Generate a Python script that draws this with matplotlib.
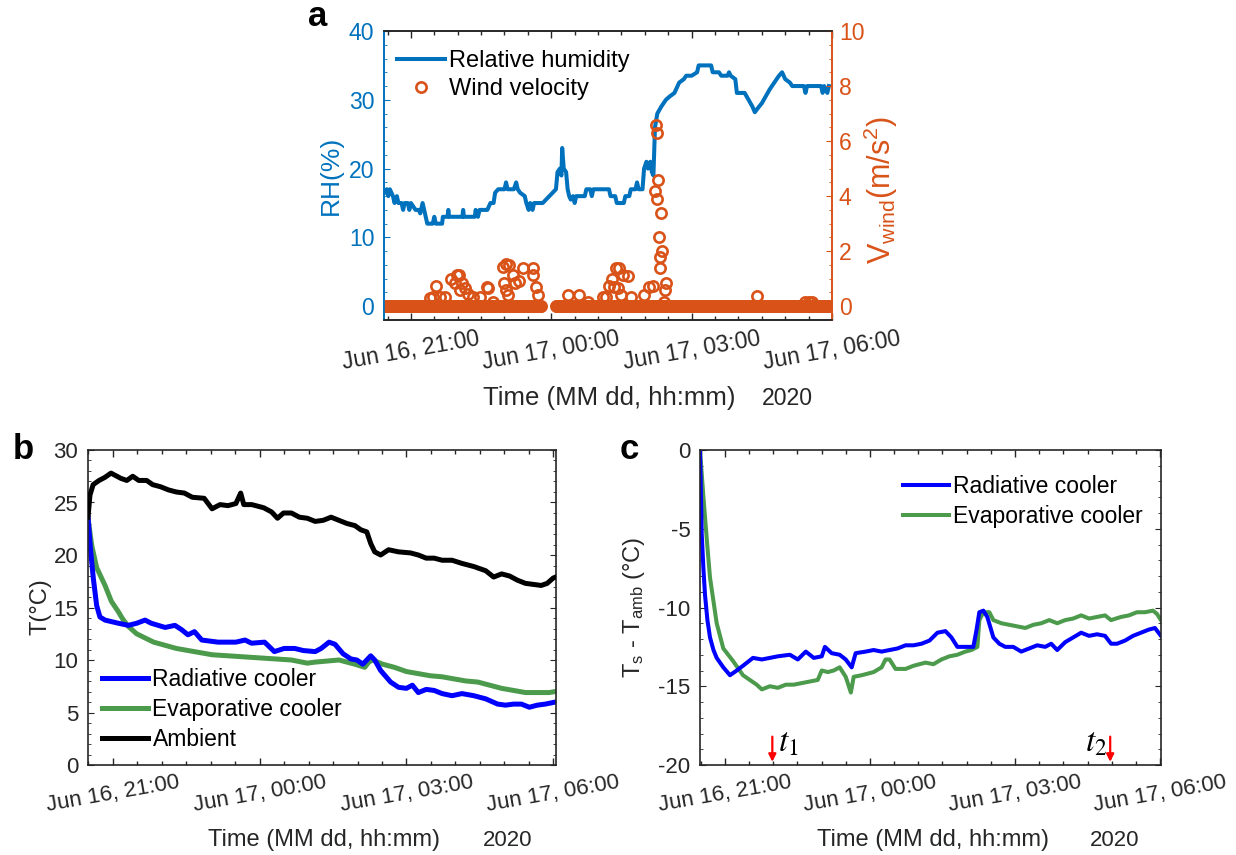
import numpy as np
import pandas as pd
import matplotlib
matplotlib.use("Agg")
import matplotlib.pyplot as plt
import matplotlib.dates as mdates
from matplotlib.ticker import MultipleLocator, FixedLocator

plt.rcParams['font.family'] = ['Liberation Sans', 'DejaVu Sans']
plt.rcParams['mathtext.fontset'] = 'custom'
plt.rcParams['mathtext.rm'] = 'Liberation Sans'
plt.rcParams['mathtext.it'] = 'Liberation Sans:italic'
plt.rcParams['mathtext.bf'] = 'Liberation Sans:bold'
plt.rcParams['axes.unicode_minus'] = False

BASE = pd.Timestamp("2020-06-16 20:00")


def T(minutes):
    return BASE + pd.to_timedelta(np.asarray(minutes, dtype=float), unit="min")


# ---------------- Panel a : relative humidity / wind ----------------
# minutes after Jun 16 20:00
rh_min = [26, 29, 31, 33, 35, 37, 39, 42, 44, 48, 50, 52, 56, 58, 60, 63, 66, 70, 72, 75,
          77, 79, 81, 88, 90, 92, 100, 101, 107, 108, 109, 126, 127, 128, 142, 143, 146, 148,
          158, 162, 166, 168, 172, 180, 182, 184, 192, 195, 197, 200, 206, 208, 211, 213, 216,
          218, 229, 246, 248, 251, 253, 254, 256, 259, 261, 263, 265, 268, 270, 272, 283, 285,
          290, 292, 294, 314, 316, 322, 324, 333, 335, 340, 342, 348, 350, 352, 357, 359, 362,
          364, 367, 369, 371, 373, 376, 381, 387, 392, 398, 404, 410, 413, 420, 427, 429, 445,
          447, 455, 458, 466, 468, 470, 476, 478, 488, 493, 498, 501, 505, 510, 515, 520, 526,
          532, 536, 540, 546, 549, 564, 566, 568, 586, 588, 590, 594, 596]
rh_val = [16.5, 17, 16, 17, 16.5, 16, 15, 16, 15, 15, 14, 15, 15, 14, 15, 14.5, 14, 14, 13.5, 15,
          14, 13, 12, 12, 13, 12, 12, 13, 13, 14, 13, 13, 14, 13, 13, 14, 13, 14,
          14, 15, 15, 16.5, 17, 17, 18, 17, 17, 18, 17, 16.5, 16, 15, 14, 15, 14,
          15, 15, 17, 19.5, 20, 19, 23, 20, 19.5, 17, 16, 15.5, 16, 15, 16, 16, 17,
          17, 16, 17, 17, 16, 16, 15, 15, 16, 16, 17, 17, 18, 17, 17, 20, 21,
          20, 21, 19.5, 19, 26, 28, 29, 30, 30.5, 31, 32.5, 33, 33.5, 33.5, 34, 35, 35,
          34, 34, 33.5, 33.5, 34, 33.5, 33, 31, 31, 30, 29, 28.2, 28.8, 29.5, 30.5, 31.5, 32.5,
          33.5, 34, 33, 32.5, 32, 32, 31, 32, 32, 31, 32, 31, 32]

# wind readings of 0 m/s (1-min sampling, data gap between 227 and 246 min)
wind_zero_spans = [(26, 227), (246, 600)]
wind_min = [84, 88.5, 92, 97, 103.5, 112, 116, 118.5, 122, 122.5, 125, 129, 133, 140, 148,
            157, 159, 165, 178, 179, 181.5, 182.5, 184.5, 185.5, 191, 193, 199, 203.5, 216,
            217, 220.5, 223, 261, 276, 287, 306, 310, 314.5, 318.5, 321, 323, 325, 326.5,
            329, 332, 338, 342, 359, 365.5, 370, 373, 374, 375, 376, 377.5, 378.5, 379,
            379.5, 380.5, 382.5, 384.5, 386, 387, 504, 566, 570, 574]
wind_val = [0.3, 0.34, 0.74, 0.34, 0.34, 1.0, 0.83, 1.13, 1.15, 0.58, 0.83, 0.65, 0.45, 0.34, 0.34,
            0.7, 0.65, 0.15, 1.43, 0.83, 0.58, 1.52, 0.4, 1.5, 1.13, 0.83, 0.9, 1.4, 1.4,
            1.13, 0.7, 0.4, 0.42, 0.42, 0.15, 0.34, 0.35, 0.75, 1.0, 0.7, 1.4, 0.65, 1.4,
            0.4, 1.15, 1.1, 0.35, 0.42, 0.7, 0.73, 4.2, 6.6, 3.9, 6.3, 4.6, 2.5, 1.8,
            1.4, 3.4, 2.0, 0.16, 0.58, 0.83, 0.38, 0.15, 0.15, 0.15]

# ---------------- Panel b : temperatures ----------------
amb_min = [29.4, 31.8, 35.7, 43.0, 50.3, 57.6, 62.4, 69.7, 77.0, 84.3, 91.6, 101.4, 108.7, 118.4,
           128.1, 137.8, 147.6, 157.3, 171.9, 181.6, 191.4, 201.1, 210.8, 216.7, 220.5, 230.3,
           244.9, 254.6, 261.9, 269.2, 278.9, 288.7, 298.4, 308.1, 317.8, 327.6, 337.3, 347.0,
           356.8, 364.1, 371.4, 376.2, 381.1, 388.4, 398.1, 410.3, 424.9, 434.6, 444.3, 454.1,
           463.8, 476.0, 488.1, 502.7, 517.3, 527.0, 536.8, 546.5, 556.2, 566.0, 575.7, 585.4,
           592.7, 600.0, 603.0]
amb_T = [23.6, 25.7, 26.7, 27.1, 27.4, 27.8, 27.6, 27.3, 27.1, 27.5, 27.1, 27.1, 26.7, 26.5,
         26.2, 26.0, 25.9, 25.5, 25.4, 24.4, 24.8, 24.7, 24.9, 25.9, 24.8, 24.8,
         24.5, 24.1, 23.5, 24.0, 24.0, 23.6, 23.5, 23.2, 23.3, 23.6, 23.3, 23.0,
         22.8, 22.4, 22.2, 21.1, 20.3, 20.0, 20.5, 20.3, 20.2, 20.0, 19.7, 19.7,
         19.5, 19.5, 19.2, 18.9, 18.5, 17.9, 18.2, 18.0, 17.6, 17.3, 17.2, 17.1,
         17.3, 17.8, 17.9]
rad_min = [29.4, 32.5, 35.9, 40.0, 44.0, 50.3, 66.6, 78.9, 89.2, 99.4, 107.0, 124.0, 136.0,
           144.0, 152.0, 160.0, 169.0, 189.0, 201.1, 210.8, 222.0, 230.0, 246.0, 258.0,
           270.0, 283.0, 293.5, 308.1, 315.4, 325.1, 332.4, 342.2, 351.9, 359.2, 366.5, 371.4,
           376.2, 381.1, 388.4, 400.6, 410.3, 420.0, 427.3, 434.6, 444.3, 454.1, 463.8, 476.0,
           488.1, 502.7, 517.3, 531.9, 541.6, 551.4, 561.1, 570.8, 580.6, 590.3, 603.0]
rad_T = [23.6, 20.5, 17.8, 15.2, 14.1, 13.8, 13.5, 13.3, 13.5, 13.8, 13.5, 13.1, 13.3,
         12.9, 12.4, 12.7, 11.9, 11.7, 11.7, 11.7, 11.9, 11.6, 11.7, 10.8,
         11.1, 11.1, 10.9, 10.8, 11.1, 11.7, 11.5, 10.6, 10.1, 10.0, 9.6, 10.0,
         10.4, 10.0, 9.0, 7.9, 7.4, 7.3, 7.6, 6.9, 7.2, 7.1, 6.8, 6.6,
         6.8, 6.6, 6.3, 5.8, 5.7, 5.8, 5.8, 5.5, 5.7, 5.8, 6.0]
evap_min = [29.4, 34.0, 40.0, 50.3, 58.0, 66.6, 72.0, 78.9, 89.0, 99.4, 110.0, 123.9, 137.8,
            152.4, 167.0, 181.6, 201.1, 220.5, 240.0, 259.4, 278.9, 298.4, 308.1, 322.7, 337.3,
            347.0, 356.8, 368.9, 373.8, 378.6, 390.8, 405.4, 420.0, 434.6, 449.2, 463.8, 478.4,
            493.0, 507.6, 522.2, 536.8, 551.4, 566.0, 580.6, 595.2, 603.0]
evap_T = [23.5, 20.9, 18.8, 17.1, 15.6, 14.6, 13.9, 13.2, 12.5, 12.1, 11.7, 11.4, 11.1,
          10.9, 10.7, 10.5, 10.4, 10.3, 10.2, 10.1, 10.0, 9.7, 9.8, 9.9, 10.0,
          9.8, 9.6, 9.3, 9.8, 10.0, 9.6, 9.3, 8.9, 8.7, 8.5, 8.4, 8.2,
          8.0, 7.9, 7.6, 7.3, 7.1, 6.9, 6.9, 6.9, 7.0]

# ---------------- Panel c : Ts - Tamb ----------------
dr_min = [29.3, 30.3, 31.4, 33.5, 35.5, 38.5, 41.7, 46.0, 50.0, 58.2, 66.5, 74.8, 82.6, 95.0,
          106.0, 115.9, 125.8, 140.7, 150.6, 160.5, 170.4, 180.3, 184.2, 192.6, 202.5, 210.0,
          217.4, 222.3, 234.7, 244.6, 254.5, 264.4, 274.3, 284.2, 294.1, 304.0, 313.9, 323.8,
          333.7, 341.1, 348.5, 358.4, 368.3, 372.3, 375.7, 380.7, 385.6, 393.1, 400.5, 407.9,
          417.8, 427.7, 437.6, 447.5, 457.4, 464.8, 472.3, 482.2, 492.1, 502.0, 511.8, 521.7,
          531.6, 539.1, 546.5, 556.4, 566.3, 576.2, 586.1, 593.5, 600.9]
dr_val = [0, -2.5, -5.3, -7.5, -9.2, -10.8, -11.9, -12.7, -13.2, -13.8, -14.3, -14.0, -13.7,
          -13.2, -13.3, -13.2, -13.1, -13.0, -13.3, -12.8, -13.2, -13.1, -12.5, -12.9, -13.0,
          -13.3, -13.8, -12.9, -12.8, -12.7, -12.8, -12.7, -12.6, -12.4, -12.4, -12.3, -12.1,
          -11.6, -11.5, -11.9, -12.5, -12.5, -12.5, -11.4, -10.3, -10.2, -10.6, -11.9, -12.3,
          -12.5, -12.5, -12.8, -12.6, -12.4, -12.5, -12.3, -12.7, -12.2, -11.9, -11.6, -11.8,
          -11.7, -11.8, -12.3, -12.3, -12.1, -11.8, -11.6, -11.4, -11.3, -11.8]
de_min = [29.3, 33.4, 37.6, 41.7, 50.0, 58.2, 70.3, 82.6, 99.6, 106.0, 115.9, 125.8,
          135.7, 145.6, 155.5, 165.4, 175.3, 180.3, 187.7, 195.1, 202.5, 210.0, 216.4, 219.9,
          229.8, 244.6, 254.5, 259.4, 264.4, 271.8, 284.2, 294.1, 308.9, 318.8, 328.7, 338.6,
          348.5, 358.4, 365.8, 373.3, 375.7, 380.7, 388.1, 393.1, 403.0, 412.9, 422.8, 432.7,
          442.6, 452.5, 462.4, 472.3, 482.2, 492.1, 502.0, 511.8, 521.7, 531.6, 539.1, 551.4,
          561.3, 571.2, 581.1, 591.0, 595.9, 600.9]
de_val = [0, -2.9, -5.6, -8.1, -11.0, -12.6, -13.4, -14.3, -14.9, -15.2, -15.0, -15.1,
          -14.9, -14.9, -14.8, -14.7, -14.6, -14.0, -14.1, -14.0, -13.8, -14.4, -15.4, -14.4,
          -14.3, -14.1, -13.8, -13.3, -13.3, -13.9, -13.9, -13.7, -13.5, -13.6, -13.3, -13.1,
          -13.0, -12.8, -12.7, -12.5, -10.8, -10.3, -10.3, -10.8, -11.0, -11.1, -11.2, -11.3,
          -11.1, -11.0, -10.8, -11.0, -10.8, -10.7, -10.5, -10.7, -10.6, -10.5, -10.8, -10.6,
          -10.5, -10.3, -10.3, -10.2, -10.4, -10.8]
t_marks_min = [119, 538]
t_marks_lbl = [r'$t_1$', r'$t_2$']

# ---------------- styling ----------------
BLUE_A = '#0072BD'
ORANGE = '#D95319'
RAD = '#0000FF'
EVAP = '#4C9A4C'
DARK = '#262626'

W, H = 1236, 855
fig = plt.figure(figsize=(W / 100, H / 100), dpi=100)


def box(l, t, r, b):
    return [l / W, 1 - b / H, (r - l) / W, (b - t) / H]


axa = fig.add_axes(box(384, 31, 832, 320))
axb = fig.add_axes(box(88, 450, 556, 765))
axc = fig.add_axes(box(700, 450, 1161, 765))

major_t = mdates.date2num(T([60, 240, 420, 600]).to_pydatetime())
minor_t = mdates.date2num(T(list(range(0, 631, 30))).to_pydatetime())


def style_time_axis(ax, xmin, xmax, fs):
    ax.set_xlim(T([xmin])[0], T([xmax])[0])
    ax.xaxis.set_major_locator(FixedLocator(major_t))
    ax.xaxis.set_minor_locator(FixedLocator(minor_t))
    ax.xaxis.set_major_formatter(mdates.DateFormatter('%b %d, %H:%M'))
    ax.tick_params(axis='x', which='both', direction='in', top=True, bottom=True,
                   colors=DARK, labelsize=fs, labelrotation=10, pad=5)
    ax.tick_params(axis='x', which='major', length=5, width=1)
    ax.tick_params(axis='x', which='minor', length=2.8, width=1)
    for lb in ax.get_xticklabels():
        lb.set_ha('center')


# ---- panel a ----
FS_A_TICK = 16.6
ax2 = axa.twinx()
axa.plot(T(rh_min), rh_val, color=BLUE_A, lw=2.9, label='Relative humidity', zorder=2)
zero_min = np.concatenate([np.arange(a, b + 1) for a, b in wind_zero_spans])
ax2.plot(T(zero_min), np.zeros(len(zero_min)), 'o', mfc='none', mec=ORANGE, ms=7.4, mew=1.9)
ax2.plot(T(wind_min), wind_val, 'o', mfc='none', mec=ORANGE, ms=7.4, mew=1.9,
         label='Wind velocity')
axa.set_ylim(-2, 40)
ax2.set_ylim(-0.5, 10)
axa.yaxis.set_major_locator(MultipleLocator(10))
axa.yaxis.set_minor_locator(MultipleLocator(2))
ax2.yaxis.set_major_locator(MultipleLocator(2))
ax2.yaxis.set_minor_locator(MultipleLocator(0.5))
style_time_axis(axa, 25.5, 600, FS_A_TICK)
style_time_axis(ax2, 25.5, 600, FS_A_TICK)
ax2.tick_params(axis='x', which='both', top=False, bottom=False, labelbottom=False)
axa.tick_params(axis='y', which='both', direction='in', left=True, right=False,
                colors=BLUE_A, labelsize=FS_A_TICK, pad=7)
axa.tick_params(axis='y', which='major', length=4.5)
axa.tick_params(axis='y', which='minor', length=2.5)
ax2.tick_params(axis='y', which='both', direction='in', right=True, left=False,
                colors=ORANGE, labelsize=FS_A_TICK, pad=5)
ax2.tick_params(axis='y', which='major', length=4.5)
ax2.tick_params(axis='y', which='minor', length=2.5)
for ax in (axa, ax2):
    ax.spines['top'].set_color(DARK)
    ax.spines['bottom'].set_color(DARK)
    ax.spines['left'].set_color(BLUE_A)
    ax.spines['right'].set_color(ORANGE)
    for s in ax.spines.values():
        s.set_linewidth(1.2)
h1, l1 = axa.get_legend_handles_labels()
h2, l2 = ax2.get_legend_handles_labels()
ax2.legend(h1 + h2, l1 + l2, loc='upper left', bbox_to_anchor=(0.03, 0.935),
           frameon=False, fontsize=17, handlelength=2.0, handletextpad=0.2,
           borderpad=0, borderaxespad=0, labelspacing=0.28)

# ---- panel b ----
axb.plot(T(amb_min), amb_T, color='black', lw=3.6, label='Ambient', zorder=3)
axb.plot(T(evap_min), evap_T, color=EVAP, lw=3.6, label='Evaporative cooler', zorder=2)
axb.plot(T(rad_min), rad_T, color=RAD, lw=3.6, label='Radiative cooler', zorder=2.5)
axb.set_ylim(0, 30)
axb.yaxis.set_major_locator(MultipleLocator(5))
axb.yaxis.set_minor_locator(MultipleLocator(1))
style_time_axis(axb, 29.4, 603.5, 16)
hb, lb_ = axb.get_legend_handles_labels()
order = [2, 1, 0]
axb.legend([hb[i] for i in order], [lb_[i] for i in order], loc='lower left',
           bbox_to_anchor=(0.03, 0.045), frameon=False, fontsize=16.5,
           handlelength=2.0, handletextpad=0.2, borderpad=0, borderaxespad=0,
           labelspacing=0.3)

# ---- panel c ----
axc.plot(T(de_min), de_val, color=EVAP, lw=2.9, label='Evaporative cooler', zorder=2)
axc.plot(T(dr_min), dr_val, color=RAD, lw=2.9, label='Radiative cooler', zorder=2.5)
axc.set_ylim(-20, 0)
axc.yaxis.set_major_locator(MultipleLocator(5))
axc.yaxis.set_minor_locator(MultipleLocator(1))
style_time_axis(axc, 29.3, 601, 16)
hc, lc = axc.get_legend_handles_labels()
axc.legend(hc[::-1], lc[::-1], loc='upper left', bbox_to_anchor=(0.44, 0.92),
           frameon=False, fontsize=16.5, handlelength=2.0, handletextpad=0.2,
           borderpad=0, borderaxespad=0, labelspacing=0.3)
for tm, lbl, side in zip(t_marks_min, t_marks_lbl, ['right', 'left']):
    x = T([tm])[0]
    axc.annotate('', xy=(x, -19.8), xytext=(x, -18.2),
                 arrowprops=dict(arrowstyle='-|>', color='red', lw=1.6,
                                 mutation_scale=11, shrinkA=0, shrinkB=0))
    dx = 4 if side == 'right' else -2
    axc.annotate(lbl, xy=(x, -18.6), xytext=(dx, 0), textcoords='offset points',
                 ha='left' if side == 'right' else 'right', va='center',
                 fontsize=24, math_fontfamily='stix', color='black')

for ax in (axb, axc):
    ax.tick_params(axis='y', which='both', direction='in', left=True, right=True,
                   colors=DARK, labelsize=16, pad=7)
    ax.tick_params(axis='y', which='major', length=4.5)
    ax.tick_params(axis='y', which='minor', length=2.5)
    for s in ax.spines.values():
        s.set_color(DARK)
        s.set_linewidth(1.2)


# ---- labels ----
def ftext(x, y, s, **kw):
    fig.text(x / W, 1 - y / H, s, **kw)


ftext(331, 175, 'RH(%)', rotation=90, ha='center', va='center', fontsize=19, color=BLUE_A)
ftext(881, 190, r'V$_{\mathrm{wind}}$(m/s$^{\mathrm{2}}$)', rotation=90, ha='center',
      va='center', fontsize=22, color=ORANGE)
ftext(40, 607, 'T(°C)', rotation=90, ha='center', va='center', fontsize=17, color=DARK)
ftext(634, 607, r'T$_{\mathrm{s}}$ - T$_{\mathrm{amb}}$ (°C)', rotation=90, ha='center',
      va='center', fontsize=17, color=DARK)

ftext(609, 398, 'Time (MM dd, hh:mm)', ha='center', va='center', fontsize=18.5, color=DARK)
ftext(787, 398, '2020', ha='center', va='center', fontsize=16.6, color=DARK)
for (cx, cy, yx) in [(324, 840, 508), (933, 840, 1115)]:
    ftext(cx, cy, 'Time (MM dd, hh:mm)', ha='center', va='center', fontsize=17, color=DARK)
    ftext(yx, cy, '2020', ha='center', va='center', fontsize=16, color=DARK)

for (x, y, s) in [(318, 16, 'a'), (23, 449, 'b'), (629, 449, 'c')]:
    ftext(x, y, s, ha='center', va='center', fontsize=25, fontweight='bold', color='black')

fig.savefig('out.png', dpi=100)
